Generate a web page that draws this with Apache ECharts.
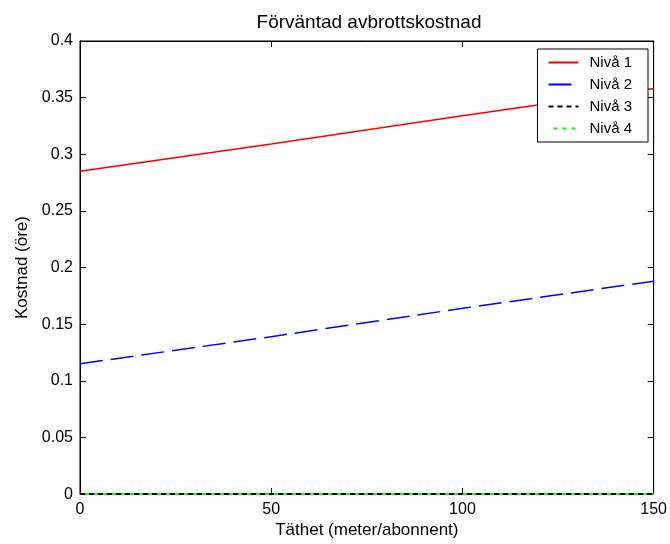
<!DOCTYPE html>
<html>
<head>
<meta charset="utf-8">
<script src="https://cdn.jsdelivr.net/npm/echarts@6/dist/echarts.min.js"></script>
<style>
  html, body { margin: 0; padding: 0; background: #fff; }
  #chart { width: 670px; height: 544px; }
</style>
</head>
<body>
<div id="chart"></div>
<script>
// Density (meter per subscriber) at which the cost is evaluated
const density = [0, 50, 100, 150];
// Expected interruption cost per level (öre)
const level1 = [0.285, 0.309, 0.334, 0.358];
const level2 = [0.115, 0.139, 0.164, 0.188];
const level3 = [0, 0, 0, 0];
const level4 = [0, 0, 0, 0];
const seriesNames = ['Nivå 1', 'Nivå 2', 'Nivå 3', 'Nivå 4'];
const xTicks = [0, 50, 100, 150];
const yTicks = [0, 0.05, 0.1, 0.15, 0.2, 0.25, 0.3, 0.35, 0.4];

const FONT = 'Liberation Sans, Arial, sans-serif';
const pairs = (ys) => density.map((x, i) => [x, ys[i]]);

const chart = echarts.init(document.getElementById('chart'), null, { renderer: 'canvas' });

// Box-style axes: black lines, short ticks pointing into the plot area
const axisLine = () => ({ show: true, onZero: false, lineStyle: { color: '#000', width: 1 } });
const tick = () => ({ show: true, inside: true, length: 6, lineStyle: { color: '#000', width: 1 } });
const noSplit = { show: false };

chart.setOption({
  backgroundColor: '#fff',
  animation: false,
  title: {
    text: 'Förväntad avbrottskostnad',
    left: 364, top: 8, textAlign: 'center',
    textStyle: { fontFamily: FONT, fontSize: 19, fontWeight: 'normal', color: '#000' }
  },
  legend: {
    right: 22, top: 49,
    orient: 'vertical',
    data: seriesNames,
    backgroundColor: '#fff',
    borderColor: '#000', borderWidth: 1, borderRadius: 0,
    padding: [6, 16, 6, 10],
    itemGap: 7, itemWidth: 30, itemHeight: 14,
    // line samples only, no marker symbol
    itemStyle: { color: 'rgba(0,0,0,0)', borderWidth: 0, opacity: 0 },
    textStyle: { fontFamily: FONT, fontSize: 15, color: '#000', padding: [0, 0, 0, 6] }
  },
  grid: { left: 80, right: 13, top: 41, bottom: 48, show: true, borderColor: '#000', borderWidth: 1, containLabel: false },
  xAxis: [{
    type: 'value', min: 0, max: 150, interval: 50, position: 'bottom',
    name: 'Täthet (meter/abonnent)', nameLocation: 'middle', nameGap: 27,
    nameTextStyle: { fontFamily: FONT, fontSize: 17, color: '#000' },
    axisLine: axisLine(), axisTick: tick(),
    axisLabel: { fontFamily: FONT, fontSize: 16, color: '#000', margin: 7,
      formatter: (v) => xTicks.includes(v) ? String(v) : '' },
    splitLine: noSplit
  }, {
    type: 'value', min: 0, max: 150, interval: 50, position: 'top',
    axisLine: axisLine(), axisTick: tick(), axisLabel: { show: false }, splitLine: noSplit
  }],
  yAxis: [{
    type: 'value', min: 0, max: 0.4, interval: 0.05, position: 'left',
    name: 'Kostnad (öre)', nameLocation: 'middle', nameGap: 47,
    nameTextStyle: { fontFamily: FONT, fontSize: 17, color: '#000' },
    axisLine: axisLine(), axisTick: tick(),
    axisLabel: { fontFamily: FONT, fontSize: 16, color: '#000', margin: 7,
      formatter: (v) => {
        const t = yTicks.find((y) => Math.abs(y - v) < 1e-9);
        return t === undefined ? '' : String(+t.toFixed(2));
      } },
    splitLine: noSplit
  }, {
    type: 'value', min: 0, max: 0.4, interval: 0.05, position: 'right',
    axisLine: axisLine(), axisTick: tick(), axisLabel: { show: false }, splitLine: noSplit
  }],
  series: [
    { name: seriesNames[0], type: 'line', data: pairs(level1), symbol: 'none',
      lineStyle: { color: '#ff0000', width: 1.5, type: 'solid' }, itemStyle: { color: '#ff0000' } },
    { name: seriesNames[1], type: 'line', data: pairs(level2), symbol: 'none',
      lineStyle: { color: '#0000ff', width: 1.5, type: [23, 8] }, itemStyle: { color: '#0000ff' } },
    { name: seriesNames[2], type: 'line', data: pairs(level3), symbol: 'none',
      lineStyle: { color: '#000000', width: 2, type: [5, 4] }, itemStyle: { color: '#000' } },
    // dotted green drawn over the black dashes, filling their gaps
    { name: seriesNames[3], type: 'line', data: pairs(level4), symbol: 'none',
      lineStyle: { color: '#00ff00', width: 2, type: [4, 5], dashOffset: 4 }, itemStyle: { color: '#00ff00' } }
  ]
});
</script>
</body>
</html>
